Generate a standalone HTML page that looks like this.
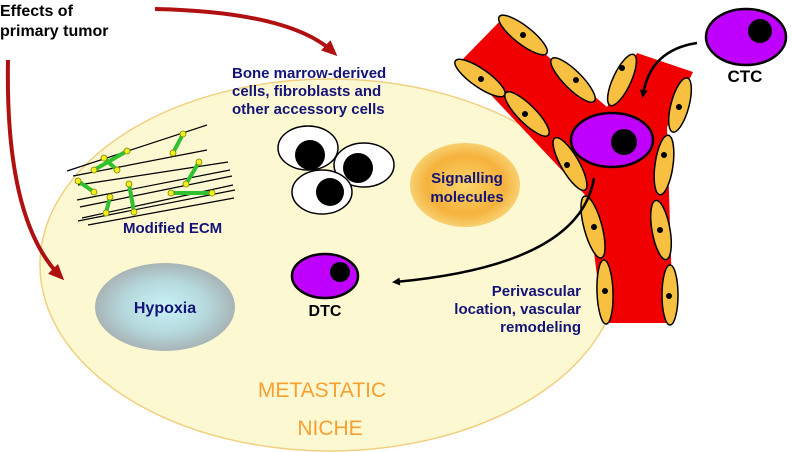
<!DOCTYPE html>
<html><head><meta charset="utf-8"><style>body{margin:0;background:#fff}svg{display:block}text{font-family:"Liberation Sans",sans-serif;font-weight:bold}</style></head><body>
<svg width="793" height="452" viewBox="0 0 793 452">
<defs>
<radialGradient id="sg" cx="50%" cy="50%" r="50%"><stop offset="0" stop-color="#fbd56a"/><stop offset="0.7" stop-color="#f5b23c"/><stop offset="1" stop-color="#f8d070"/></radialGradient>
<radialGradient id="hg" cx="50%" cy="50%" r="50%"><stop offset="0" stop-color="#c8f4f8"/><stop offset="0.6" stop-color="#b5d8dc"/><stop offset="1" stop-color="#a8b4b6"/></radialGradient>
<marker id="ab" markerWidth="8" markerHeight="8" refX="5" refY="4" orient="auto" markerUnits="userSpaceOnUse"><path d="M0,0 L8,4 L0,8 z" fill="#000"/></marker>
<marker id="ar" markerWidth="16" markerHeight="14" refX="10" refY="7" orient="auto" markerUnits="userSpaceOnUse"><path d="M0,0 L16,7 L0,14 z" fill="#b01010"/></marker>
</defs>
<ellipse cx="330" cy="265" rx="290" ry="186" fill="#fcf8d2" stroke="#f0d080" stroke-width="1.5"/>
<polygon points="460,62 503,18 607,107 637,53 693,72 667,127 673,323 603,323 587,197" fill="#f00000"/>
<g fill="#f7c040" stroke="#000" stroke-width="1.5">
<ellipse cx="480" cy="78" rx="30" ry="9" transform="rotate(35 480 78)"/>
<ellipse cx="527" cy="114" rx="30" ry="9" transform="rotate(45 527 114)"/>
<ellipse cx="570" cy="164" rx="30" ry="9" transform="rotate(60 570 164)"/>
<ellipse cx="593" cy="227" rx="32" ry="9" transform="rotate(75 593 227)"/>
<ellipse cx="605" cy="292" rx="32" ry="8" transform="rotate(88 605 292)"/>
<ellipse cx="523" cy="35" rx="30" ry="9" transform="rotate(38 523 35)"/>
<ellipse cx="573" cy="80" rx="30" ry="9" transform="rotate(45 573 80)"/>
<ellipse cx="622" cy="80" rx="28" ry="9" transform="rotate(-65 622 80)"/>
<ellipse cx="680" cy="105" rx="28" ry="9" transform="rotate(-75 680 105)"/>
<ellipse cx="664" cy="165" rx="30" ry="9" transform="rotate(-82 664 165)"/>
<ellipse cx="661" cy="230" rx="30" ry="9" transform="rotate(80 661 230)"/>
<ellipse cx="670" cy="295" rx="30" ry="8" transform="rotate(90 670 295)"/>
</g>
<g fill="#000">
<circle cx="481" cy="79" r="3"/><circle cx="525" cy="114" r="3"/><circle cx="567" cy="165" r="3"/><circle cx="594" cy="227" r="3"/><circle cx="605" cy="291" r="3"/>
<circle cx="523" cy="35" r="3"/><circle cx="576" cy="80" r="3"/><circle cx="622" cy="68" r="3"/><circle cx="679" cy="107" r="3"/><circle cx="664" cy="155" r="3"/><circle cx="660" cy="230" r="3"/><circle cx="669" cy="296" r="3"/>
</g>
<ellipse cx="612" cy="140" rx="41" ry="27" fill="#c000ff" stroke="#000" stroke-width="2.5"/>
<circle cx="624" cy="142" r="13" fill="#000"/>
<ellipse cx="746" cy="37" rx="40" ry="28" fill="#c000ff" stroke="#000" stroke-width="2.5"/>
<circle cx="760" cy="31" r="12" fill="#000"/>
<text x="745" y="82" font-size="17" text-anchor="middle" font-weight="normal" style="font-weight:bold">CTC</text>
<path d="M697,43 Q650,50 643,95" fill="none" stroke="#000" stroke-width="2.5" marker-end="url(#ab)"/>
<path d="M594,178 Q580,265 395,282" fill="none" stroke="#000" stroke-width="2.5" marker-end="url(#ab)"/>
<ellipse cx="325" cy="276" rx="33" ry="22" fill="#c000ff" stroke="#000" stroke-width="2.5"/>
<circle cx="340" cy="272" r="10" fill="#000"/>
<text x="325" y="316" font-size="16" text-anchor="middle">DTC</text>
<g stroke="#000" stroke-width="1.5" fill="#fff">
<ellipse cx="308" cy="148" rx="30" ry="22"/><ellipse cx="364" cy="165" rx="30" ry="22"/><ellipse cx="322" cy="192" rx="30" ry="22"/>
</g>
<g fill="#000"><circle cx="310" cy="155" r="15"/><circle cx="358" cy="168" r="15"/><circle cx="330" cy="192" r="14"/></g>
<ellipse cx="465" cy="185" rx="55" ry="42" fill="url(#sg)"/>
<text x="467" y="183" font-size="15" fill="#141478" text-anchor="middle">Signalling</text>
<text x="467" y="202" font-size="15" fill="#141478" text-anchor="middle">molecules</text>
<ellipse cx="165" cy="307" rx="70" ry="44" fill="url(#hg)"/>
<text x="165" y="313" font-size="16" fill="#141478" text-anchor="middle">Hypoxia</text>
<g stroke="#000" stroke-width="1.2">
<line x1="67" y1="171" x2="207" y2="125"/><line x1="73" y1="176" x2="207" y2="150"/><line x1="78" y1="185" x2="228" y2="162"/><line x1="77" y1="200" x2="230" y2="170"/>
<line x1="80" y1="207" x2="232" y2="176"/><line x1="82" y1="218" x2="233" y2="185"/><line x1="78" y1="221" x2="235" y2="190"/><line x1="88" y1="225" x2="234" y2="198"/>
</g>
<g stroke="#30c030" stroke-width="4"><line x1="183" y1="134" x2="173" y2="153"/><line x1="127" y1="151" x2="94" y2="170"/><line x1="104" y1="158" x2="117" y2="170"/><line x1="78" y1="181" x2="94" y2="192"/><line x1="199" y1="162" x2="186" y2="184"/><line x1="129" y1="184" x2="134" y2="212"/><line x1="110" y1="197" x2="106" y2="213"/><line x1="171" y1="193" x2="212" y2="193"/></g>
<g fill="#f0f020" stroke="#808000" stroke-width="0.8"><circle cx="183" cy="134" r="3"/><circle cx="173" cy="153" r="3"/><circle cx="127" cy="151" r="3"/><circle cx="94" cy="170" r="3"/><circle cx="104" cy="158" r="3"/><circle cx="78" cy="181" r="3"/><circle cx="94" cy="192" r="3"/><circle cx="199" cy="162" r="3"/><circle cx="186" cy="184" r="3"/><circle cx="129" cy="184" r="3"/><circle cx="134" cy="212" r="3"/><circle cx="110" cy="197" r="3"/><circle cx="106" cy="213" r="3"/><circle cx="171" cy="193" r="3"/><circle cx="212" cy="193" r="3"/><circle cx="117" cy="170" r="3"/></g>
<text x="123" y="233" font-size="15" fill="#141478">Modified ECM</text>
<g font-size="15" fill="#141478"><text x="232" y="78">Bone marrow-derived</text><text x="232" y="96">cells, fibroblasts and</text><text x="232" y="114">other accessory cells</text></g>
<g font-size="15" fill="#141478" text-anchor="end"><text x="581" y="296">Perivascular</text><text x="581" y="314">location, vascular</text><text x="581" y="332">remodeling</text></g>
<g font-size="21" fill="#f5a030" text-anchor="middle" style="font-weight:normal"><text x="322" y="397" style="font-weight:normal">METASTATIC</text><text x="330" y="435" style="font-weight:normal">NICHE</text></g>
<text x="0" y="16" font-size="16">Effects of</text><text x="0" y="36" font-size="16">primary tumor</text>
<path d="M155,9 Q290,12 333,52" fill="none" stroke="#b01010" stroke-width="4" marker-end="url(#ar)"/>
<path d="M8,60 Q5,220 60,276" fill="none" stroke="#b01010" stroke-width="4" marker-end="url(#ar)"/>
</svg>
</body></html>
